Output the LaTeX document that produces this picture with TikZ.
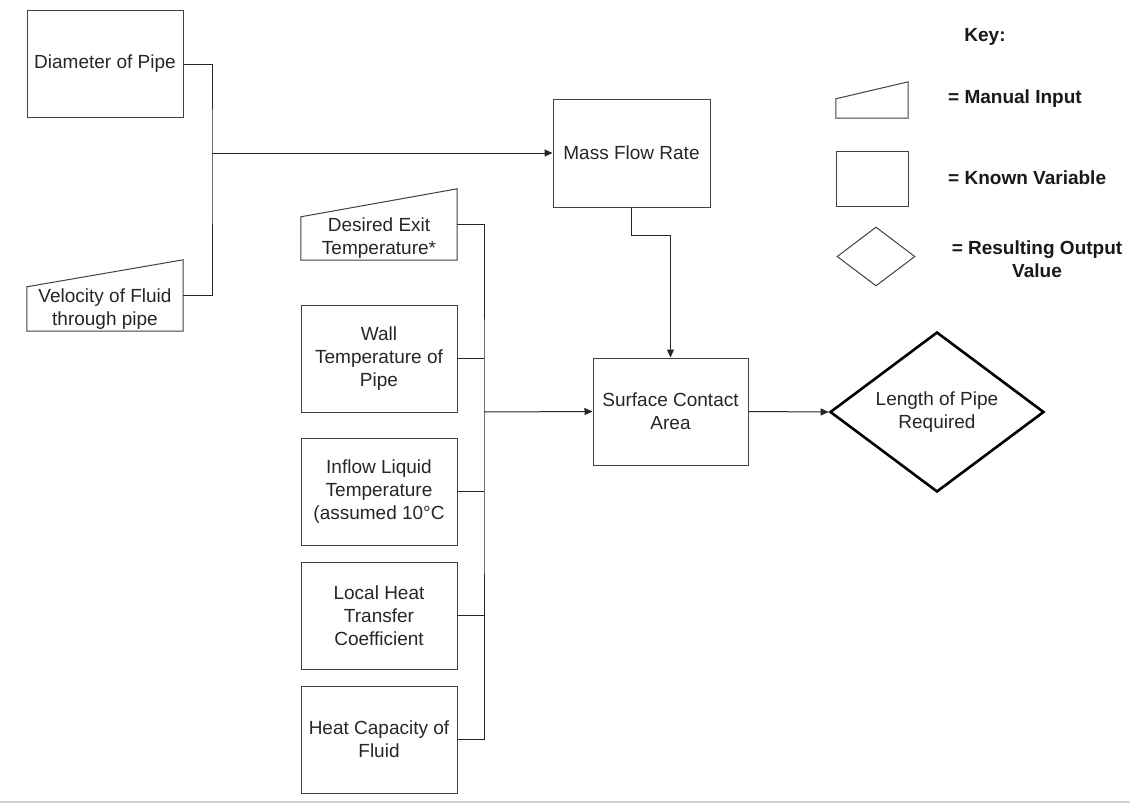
\documentclass[tikz,border=0pt]{standalone}
\usepackage{fontspec}
\setmainfont{Liberation Sans}
\usetikzlibrary{arrows.meta, shapes.geometric}

\begin{document}
\begin{tikzpicture}[x=1pt, y=-1pt,
	font=\fontsize{19}{23}\selectfont,
	known/.style={draw=black!75, line width=1pt, text=black!85, minimum width=156pt, minimum height=107pt, align=center, inner sep=2pt},
	manual/.style={text=black!85, minimum width=156pt, minimum height=43pt, align=center, inner sep=0pt},
	outline/.style={draw=black!75, line width=1pt},
	keytext/.style={text=black!90, font=\fontsize{19}{23}\selectfont\bfseries, inner sep=0pt},
	link/.style={draw=black!85, line width=1pt},
	arr/.style={link, -{Triangle[length=8pt, width=7pt]}}]
				\useasboundingbox (0,0) rectangle (1130,803);
				
				% Входные величины слева
				\node[known] (dia) at (105,64) {Diameter of Pipe};
				\node[manual, minimum height=44pt] (vel) at (105,309) {Velocity of Fluid\\through pipe};
				\draw[outline] (vel.south west) -- (vel.south east) -- ([yshift=27pt]vel.north east) -- (vel.north west) -- cycle;
				
				% Столбец известных величин
				\node[manual] (des) at (379,238.5) {Desired Exit\\Temperature*};
				\draw[outline] (des.south west) -- (des.south east) -- ([yshift=28pt]des.north east) -- (des.north west) -- cycle;
				\node[known] (wall) at (379,358.5) {Wall\\Temperature of\\Pipe};
				\node[known] (inflow) at (379,491.5) {Inflow Liquid\\Temperature\\(assumed 10°C};
				\node[known] (local) at (379,615.5) {Local Heat\\Transfer\\Coefficient};
				\node[known] (heat) at (379,739.5) {Heat Capacity of\\Fluid};
				
				% Расчётные блоки
				\node[known, minimum width=157pt, minimum height=108pt] (mass) at (631.5,153) {Mass Flow Rate};
				\node[known, minimum width=155pt] (surf) at (670.5,411.5) {Surface Contact\\Area};
				\node[diamond, draw=black, line width=2.6pt, text=black!85, minimum width=214pt, minimum height=160pt, shape aspect=1.34, inner sep=0pt, align=center] (len) at (937,412) {Length of Pipe\\Required};
				
				% Точки ветвления
				\coordinate (busA) at (212,153);
				\coordinate (busB) at (484,412);
				
				% Соединения
				\draw[link] (dia.east) -| (busA) |- ([yshift=14pt]vel.east);
				\draw[arr] (busA) -- (mass.west);
				\draw[link] ([yshift=14pt]des.east) -| (busB) |- (heat.east);
				\foreach \n in {wall, inflow, local}
					\draw[link] (\n.east) -- (\n.east -| busB);
				\draw[arr] (busB) -- (surf.west);
				\draw[arr] (mass.south) -- ++(0,28) -| (surf.north);
				\draw[arr] (surf.east) -- (len.west);
				
				% Легенда
				\node[keytext] (key) at (985,37) {Key:};
				\node[manual, minimum width=72pt, minimum height=19pt] (keyman) at (872,108.5) {};
				\draw[outline] (keyman.south west) -- (keyman.south east) -- ([yshift=17pt]keyman.north east) -- (keyman.north west) -- cycle;
				\node[known, minimum width=72pt, minimum height=55pt] (keyknown) at (872,178.5) {};
				\node[diamond, draw=black!75, line width=1pt, minimum width=78pt, minimum height=59pt, inner sep=0pt] (keyres) at (876,256.5) {};
				\node[keytext, anchor=west] (txtman) at (948,99) {= Manual Input};
				\node[keytext, anchor=west] (txtknown) at (948,178) {= Known Variable};
				\node[keytext, align=center] (txtres) at (1037,259) {= Resulting Output\\Value};
				
				% Нижняя линия
				\draw[gray!35, line width=2pt] (0,802) -- (1130,802);
			\end{tikzpicture}
\end{document}
